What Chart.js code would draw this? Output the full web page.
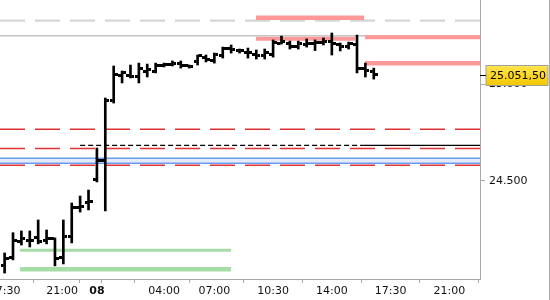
<!DOCTYPE html>
<html><head><meta charset="utf-8">
<script src="https://cdn.jsdelivr.net/npm/chart.js@4.4.1/dist/chart.umd.min.js"></script>
<style>
html,body{margin:0;padding:0;background:#fff;}
#wrap{position:relative;width:549px;height:300px;border-right:1px solid #aaa;}
</style></head><body>
<div id="wrap"><canvas id="c"></canvas></div>
<script>
// ---- data (x in trading-hours units, 0 = "08") ----
const barTimes = [-5.5,-5,-4.5,-4,-3.5,-3,-2.5,-2,-1.5,-1,-0.5,0,0.5,1,1.5,2,2.5,3,3.5,4,4.5,5,5.5,6,6.5,7,7.5,8,8.5,9,9.5,10,10.5,11,11.5,12,12.5,13,13.5,14,14.5,15,15.5,16,16.5];
const opens  = [24060,24101,24184,24194,24205,24189,24200,24101,24210,24360,24386,24510,24604,24915,25049,25049,25039,25070,25070,25101,25106,25111,25096,25117,25142,25127,25148,25189,25176,25168,25158,25148,25153,25215,25215,25199,25205,25210,25220,25225,25205,25199,25205,25085,25070];
const highs  = [24127,24232,24241,24241,24298,24246,24205,24298,24386,24422,24453,24671,24930,25096,25070,25101,25111,25106,25111,25111,25122,25122,25101,25153,25153,25163,25194,25205,25184,25189,25179,25184,25231,25251,25225,25225,25236,25231,25241,25267,25215,25220,25256,25111,25085];
const lows   = [24023,24091,24168,24158,24174,24174,24060,24070,24179,24339,24350,24495,24345,24904,25008,25034,25008,25039,25060,25091,25096,25085,25085,25101,25117,25111,25137,25163,25163,25137,25132,25132,25142,25210,25184,25184,25194,25176,25205,25153,25174,25184,25060,25039,25028];
const closes = [24096,24194,24200,24189,24184,24200,24096,24210,24365,24370,24396,24604,24915,25054,25060,25039,25085,25080,25101,25106,25111,25096,25093,25148,25132,25158,25189,25179,25174,25168,25148,25168,25220,25225,25199,25210,25215,25220,25225,25210,25199,25215,25085,25075,25051.5];

const xTickPositions = [-5.5,-2.07,0,0.5,4,7,10.5,14,17.5,21];
const xTickLabels = ['17:30','21:00','08','','04:00','07:00','10:30','14:00','17:30','21:00'];
const yTickValues = [24500,25000];
const yTickLabels = ['24.500','25.000'];
const lastPriceLabel = '25.051,50';

const X_MIN = -5.775, X_MAX = 22.83, Y_MIN = 23992, Y_MAX = 25438;

// horizontal levels
const grayDashedLevel = 25331;
const graySolidLevel = 25252;
const redDashedLevels = [24768, 24669, 24581];
const prevCloseLevel = 24685, prevCloseFrom = -1.0, prevCloseSolidFrom = 15.9;
const blueBandLevels = [24618, 24592];
const pinkLevels = [25346, 25237, 25245, 25110];
const pinkFrom   = [9.48, 9.48, 15.98, 15.98];
const pinkTo     = [15.92, 15.38, X_MAX, X_MAX];
const greenLevels = [24141, 24042.5];
const greenFrom = -4.58, greenTo = 7.99;

// ---- helpers ----
function tickImg(side){
  const c=document.createElement('canvas'); c.width=8; c.height=3;
  const g=c.getContext('2d'); g.fillStyle='#000';
  g.fillRect(side==='left'?0:5,0,3,3); return c;
}
function hline(level, from, to, color, width, dash, extra){
  return Object.assign({type:'line', data:[{x:from,y:level},{x:to,y:level}],
    borderColor:color, borderWidth:width, borderDash:dash||[], pointRadius:0,
    fill:false, tension:0, order:10}, extra||{});
}
const FONT = 'DejaVu Sans';

const datasets = [];
datasets.push({type:'bar', data: barTimes.map((t,i)=>({x:t, y:[lows[i], highs[i]]})),
  backgroundColor:'#000', borderWidth:0, barThickness:2, order:0});
datasets.push({type:'line', showLine:false, data: barTimes.map((t,i)=>({x:t,y:opens[i]})),
  pointStyle: tickImg('left'), pointRadius:1, pointBorderWidth:0, order:1});
datasets.push({type:'line', showLine:false, data: barTimes.map((t,i)=>({x:t,y:closes[i]})),
  pointStyle: tickImg('right'), pointRadius:1, pointBorderWidth:0, order:1});

datasets.push(hline(grayDashedLevel, X_MIN, X_MAX, '#d6d6d6', 2.2, [25,10]));
datasets.push(hline(graySolidLevel, X_MIN, X_MAX, '#a8a8a8', 1));
redDashedLevels.forEach(l => datasets.push(hline(l, X_MIN, X_MAX, '#e03232', 1.5, [25,10])));
datasets.push(hline(prevCloseLevel, prevCloseFrom, prevCloseSolidFrom, '#000', 1.3, [5,3]));
datasets.push(hline(prevCloseLevel, prevCloseSolidFrom, X_MAX, '#000', 1.3));
datasets.push(hline(blueBandLevels[0], X_MIN, X_MAX, '#6b9bf0', 1.5, null, {fill:'+1', backgroundColor:'rgba(130,170,240,0.22)'}));
datasets.push(hline(blueBandLevels[1], X_MIN, X_MAX, '#6b9bf0', 1.5));
const pinkWidths = [4.5, 4, 4, 4.5];
pinkLevels.forEach((l,i) => datasets.push(hline(l, pinkFrom[i], pinkTo[i], '#ff9999', pinkWidths[i], null, {order:9})));
const greenWidths = [3, 4.5];
greenLevels.forEach((l,i) => datasets.push(hline(l, greenFrom, greenTo, '#a6dca6', greenWidths[i], null, {order:9})));

const priceLabelPlugin = {
  id:'priceLabel',
  afterDraw(chart){
    const {ctx} = chart, y = chart.scales.y;
    const py = y.getPixelForValue(closes[closes.length-1]);
    const left = y.left + 6, right = chart.width - 1, h = 20;
    const top = Math.round(py - h/2) + 0.5;
    ctx.save();
    const grad = ctx.createLinearGradient(0, top, 0, top + h);
    grad.addColorStop(0, '#ffe650'); grad.addColorStop(1, '#f6c700');
    ctx.fillStyle = grad;
    ctx.fillRect(left, top, right - left, h);
    ctx.strokeStyle = '#a0a0a0'; ctx.lineWidth = 1;
    ctx.strokeRect(left, top, right - left, h);
    ctx.strokeStyle = '#000';
    ctx.beginPath(); ctx.moveTo(y.left, Math.round(py)+0.5); ctx.lineTo(left, Math.round(py)+0.5); ctx.stroke();
    ctx.fillStyle = '#000'; ctx.font = '11px "' + FONT + '"';
    ctx.textBaseline = 'middle'; ctx.textAlign = 'left';
    ctx.fillText(lastPriceLabel, left + 4, top + h/2 + 0.5);
    ctx.restore();
  }
};

new Chart(document.getElementById('c'), {
  type:'bar',
  data:{datasets},
  plugins:[priceLabelPlugin],
  options:{
    responsive:true, maintainAspectRatio:false, animation:false, devicePixelRatio:1,
    events:[],
    layout:{padding:0, autoPadding:false},
    plugins:{legend:{display:false}, tooltip:{enabled:false}},
    scales:{
      x:{type:'linear', position:'bottom', min:X_MIN, max:X_MAX, offset:false,
        afterBuildTicks:(s)=>{ s.ticks = xTickPositions.map(v=>({value:v})); },
        afterFit:(s)=>{ s.paddingLeft=0; s.paddingRight=0; s.height=21; },
        grid:{display:true, drawOnChartArea:false, drawTicks:true, tickLength:4, color:'#aaa'},
        border:{display:true, color:'#aaa', width:1},
        ticks:{autoSkip:false, maxRotation:0, minRotation:0, padding:2, color:'#111',
          callback:(v,i)=>xTickLabels[i],
          font:(ctx)=>({family:FONT, size:11, weight: xTickLabels[ctx.index]==='08' ? 'bold' : 'normal'})}
      },
      y:{type:'linear', position:'right', min:Y_MIN, max:Y_MAX,
        afterBuildTicks:(s)=>{ s.ticks = yTickValues.map(v=>({value:v})); },
        afterFit:(s)=>{ s.paddingTop=0; s.paddingBottom=0; s.width=69; },
        grid:{display:true, drawOnChartArea:false, drawTicks:true, tickLength:5, color:'#aaa'},
        border:{display:true, color:'#aaa', width:1},
        ticks:{padding:4, color:'#111', font:{family:FONT, size:11},
          callback:(v,i)=>yTickLabels[i]}
      }
    }
  }
});
</script>
</body></html>
